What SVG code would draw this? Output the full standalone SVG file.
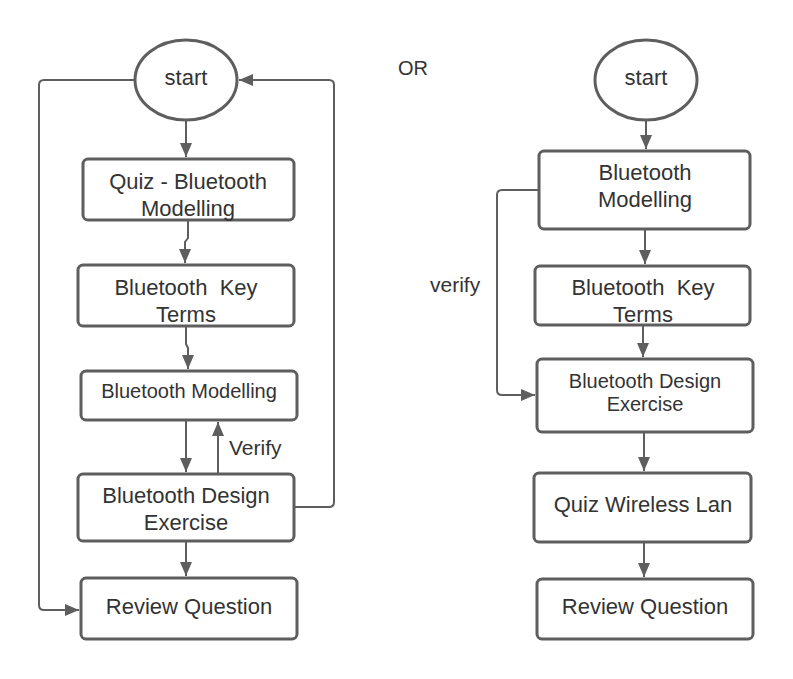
<svg xmlns="http://www.w3.org/2000/svg" width="793" height="679" viewBox="0 0 793 679">
<defs>
<marker id="ah" markerUnits="userSpaceOnUse" markerWidth="14" markerHeight="12" refX="14" refY="6" orient="auto"><path d="M0,0 L14,6 L0,12 z" fill="#5e5e5e"/></marker>
<style>
.box{fill:#fff;stroke:#5e5e5e;stroke-width:3}
.t{font-family:"Liberation Sans",Arial,sans-serif;font-size:22px;fill:#333;text-anchor:middle}
.s{font-size:20px}
.c{fill:none;stroke:#5e5e5e;stroke-width:2;marker-end:url(#ah)}
.lbl{font-family:"Liberation Sans",Arial,sans-serif;font-size:21px;fill:#333}
</style>
</defs>
<rect width="793" height="679" fill="#fff"/>
<g id="connectors">
<path class="c" d="M186,121 V157"/>
<path class="c" d="M188,221 V238 L185,242 V263"/>
<path class="c" d="M186,327 V344 L188,348 V369"/>
<path class="c" d="M186,421 V472"/>
<path class="c" d="M218,473 V422"/>
<path class="c" d="M186,542 V576"/>
<path class="c" d="M135,80 H44 Q39,80 39,85 V605 Q39,610 44,610 H79"/>
<path class="c" d="M295,507 H329 Q334,507 334,502 V85 Q334,80 329,80 H239"/>
<path class="c" d="M646,121 V149"/>
<path class="c" d="M645,230 V264"/>
<path class="c" d="M643,326 V357"/>
<path class="c" d="M539,190 H502 Q497,190 497,195 V390 Q497,395 502,395 H535"/>
<path class="c" d="M644,433 V471"/>
<path class="c" d="M644,543 V577"/>
</g>
<g id="start1"><ellipse class="box" cx="186" cy="80" rx="51" ry="40"/><text class="t" x="186" y="85">start</text></g>
<g id="quiz1"><rect class="box" x="83" y="159" width="211" height="61" rx="5"/><text class="t" x="188" y="189">Quiz - Bluetooth</text><text class="t" x="188" y="216">Modelling</text></g>
<g id="keyterms1"><rect class="box" x="78" y="265" width="216" height="61" rx="5"/><text class="t" x="186" y="295" xml:space="preserve">Bluetooth  Key</text><text class="t" x="186" y="322">Terms</text></g>
<g id="modelling1"><rect class="box" x="81" y="371" width="216" height="49" rx="5"/><text class="t s" x="189" y="398">Bluetooth Modelling</text></g>
<g id="design1"><rect class="box" x="78" y="474" width="216" height="67" rx="5"/><text class="t" x="186" y="503">Bluetooth Design</text><text class="t" x="186" y="530">Exercise</text></g>
<g id="review1"><rect class="box" x="81" y="578" width="216" height="61" rx="5"/><text class="t" x="189" y="614">Review Question</text></g>
<text class="lbl" x="229" y="455">Verify</text>
<text class="lbl" x="398" y="75" style="font-size:20px">OR</text>
<g id="start2"><ellipse class="box" cx="646" cy="80" rx="51" ry="40"/><text class="t" x="646" y="85">start</text></g>
<g id="modelling2"><rect class="box" x="539" y="151" width="211" height="78" rx="5"/><text class="t" x="645" y="180">Bluetooth</text><text class="t" x="645" y="207">Modelling</text></g>
<g id="keyterms2"><rect class="box" x="535" y="266" width="215" height="59" rx="5"/><text class="t" x="643" y="295" xml:space="preserve">Bluetooth  Key</text><text class="t" x="643" y="322">Terms</text></g>
<g id="design2"><rect class="box" x="537" y="359" width="216" height="73" rx="5"/><text class="t s" x="645" y="388">Bluetooth Design</text><text class="t s" x="645" y="411">Exercise</text></g>
<g id="quiz2"><rect class="box" x="534" y="473" width="217" height="69" rx="5"/><text class="t" x="643" y="512">Quiz Wireless Lan</text></g>
<g id="review2"><rect class="box" x="537" y="579" width="216" height="60" rx="5"/><text class="t" x="645" y="614">Review Question</text></g>
<text class="lbl" x="430" y="292">verify</text>
</svg>
